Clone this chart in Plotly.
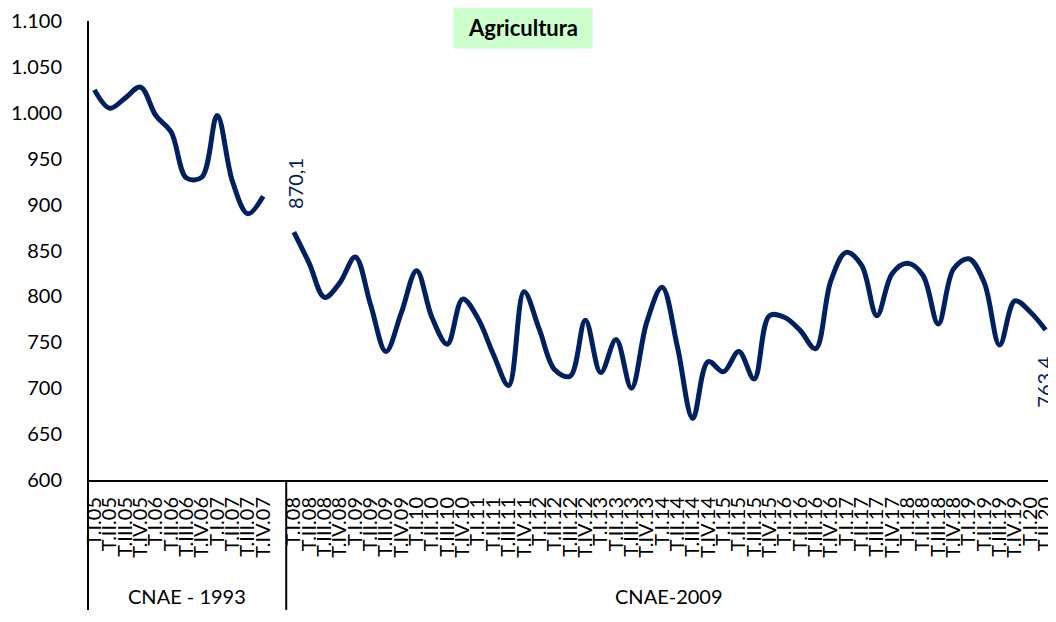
import plotly.graph_objects as go

# ---- data ----
labels_1993 = ["T.I.05", "T.II.05", "T.III.05", "T.IV.05",
               "T.I.06", "T.II.06", "T.III.06", "T.IV.06",
               "T.I.07", "T.II.07", "T.III.07", "T.IV.07"]
values_1993 = [1025, 1005, 1016, 1028, 997, 979, 929, 930, 997, 925, 890, 909]

labels_2009 = ["T.I.08", "T.II.08", "T.III.08", "T.IV.08",
               "T.I.09", "T.II.09", "T.III.09", "T.IV.09",
               "T.I.10", "T.II.10", "T.III.10", "T.IV.10",
               "T.I.11", "T.II.11", "T.III.11", "T.IV.11",
               "T.I.12", "T.II.12", "T.III.12", "T.IV.12",
               "T.I.13", "T.II.13", "T.III.13", "T.IV.13",
               "T.I.14", "T.II.14", "T.III.14", "T.IV.14",
               "T.I.15", "T.II.15", "T.III.15", "T.IV.15",
               "T.I.16", "T.II.16", "T.III.16", "T.IV.16",
               "T.I.17", "T.II.17", "T.III.17", "T.IV.17",
               "T.I.18", "T.II.18", "T.III.18", "T.IV.18",
               "T.I.19", "T.II.19", "T.III.19", "T.IV.19",
               "T.I.20", "T.II.20"]
values_2009 = [870.1, 836, 799, 815, 843, 791, 740, 782, 828, 777, 748, 797,
               776, 737, 703, 805, 764, 720, 713, 774, 717, 753, 700, 772,
               810, 745, 667, 729, 718, 740, 710, 779, 777, 763, 743, 817,
               848, 834, 779, 825, 836, 823, 770, 830, 841, 815, 747, 795,
               783, 763.4]

group_labels = ["CNAE - 1993", "CNAE-2009"]
y_ticks = [600, 650, 700, 750, 800, 850, 900, 950, 1000, 1050, 1100]
y_ticktext = ["600", "650", "700", "750", "800", "850", "900", "950",
              "1.000", "1.050", "1.100"]
title_text = "Agricultura"
first_label = "870,1"
last_label = "763,4"

# ---- positions (one blank category between the two classifications) ----
x_1993 = list(range(len(labels_1993)))
gap = len(labels_1993)
x_2009 = [gap + 1 + i for i in range(len(labels_2009))]

LINE = "#002060"
FONT = "Lato"

fig = go.Figure()
for xs, ys in ((x_1993, values_1993), (x_2009, values_2009)):
    fig.add_trace(go.Scatter(
        x=xs, y=ys, mode="lines",
        line=dict(color=LINE, width=5, shape="spline", smoothing=1.0),
        hoverinfo="skip", showlegend=False))

x_lo, x_hi = -0.42, x_2009[-1] + 0.35

# page body adds an 8px offset; compensate in size & margins
fig.update_layout(
    width=1048, height=606,
    margin=dict(l=80, r=0, t=12, b=134, pad=0),
    paper_bgcolor="white", plot_bgcolor="white",
    font=dict(family=FONT, size=20, color="black"),
    xaxis=dict(
        range=[x_lo, x_hi], showgrid=False, zeroline=False,
        showline=True, linecolor="black", linewidth=2,
        tickmode="array", tickvals=x_1993 + x_2009,
        ticktext=labels_1993 + labels_2009,
        tickangle=-90, ticks="", ticklabelstandoff=7,
        ticklabeloverflow="allow",
        tickfont=dict(family=FONT, size=20, color="black"),
    ),
    yaxis=dict(
        range=[600, 1100], showgrid=False, zeroline=False,
        showline=False, tickmode="array", tickvals=y_ticks,
        ticktext=y_ticktext, ticks="", ticklabelstandoff=25,
        ticklabeloverflow="allow",
        tickfont=dict(family=FONT, size=20, color="black"),
    ),
)

# axis / separator lines
fig.add_shape(type="line", xref="paper", yref="paper",
              x0=0, x1=0, y0=1.0, y1=-0.283,
              line=dict(color="black", width=2))
fig.add_shape(type="line", xref="x", yref="paper",
              x0=gap + 0.5, x1=gap + 0.5, y0=0, y1=-0.283,
              line=dict(color="black", width=2))

# group labels
fig.add_annotation(x=(x_lo + gap + 0.5) / 2, y=-0.253, xref="x", yref="paper",
                   text=group_labels[0], showarrow=False,
                   xanchor="center", yanchor="middle",
                   font=dict(family=FONT, size=20, color="black"))
fig.add_annotation(x=(gap + 0.5 + x_hi) / 2, y=-0.253, xref="x", yref="paper",
                   text=group_labels[1], showarrow=False,
                   xanchor="center", yanchor="middle",
                   font=dict(family=FONT, size=20, color="black"))

# data labels
fig.add_annotation(x=x_2009[0], y=values_2009[0], xref="x", yref="y",
                   text=first_label, showarrow=False, textangle=-90,
                   xanchor="center", yanchor="middle", xshift=1, yshift=49,
                   font=dict(family=FONT, size=20, color=LINE))
fig.add_annotation(x=x_2009[-1], y=values_2009[-1], xref="x", yref="y",
                   text=last_label, showarrow=False, textangle=-90,
                   xanchor="center", yanchor="middle", xshift=-2, yshift=-52,
                   font=dict(family=FONT, size=20, color=LINE))

# title box
fig.add_annotation(x=(525 - 88) / 968, y=(480 - 26.5) / 460,
                   xref="paper", yref="paper",
                   text="<b>" + title_text + "</b>", showarrow=False,
                   xanchor="center", yanchor="middle",
                   bgcolor="#CCFFCC", borderpad=7, width=124, height=27,
                   font=dict(family=FONT, size=22, color="black"))

fig.write_html("out.html")
